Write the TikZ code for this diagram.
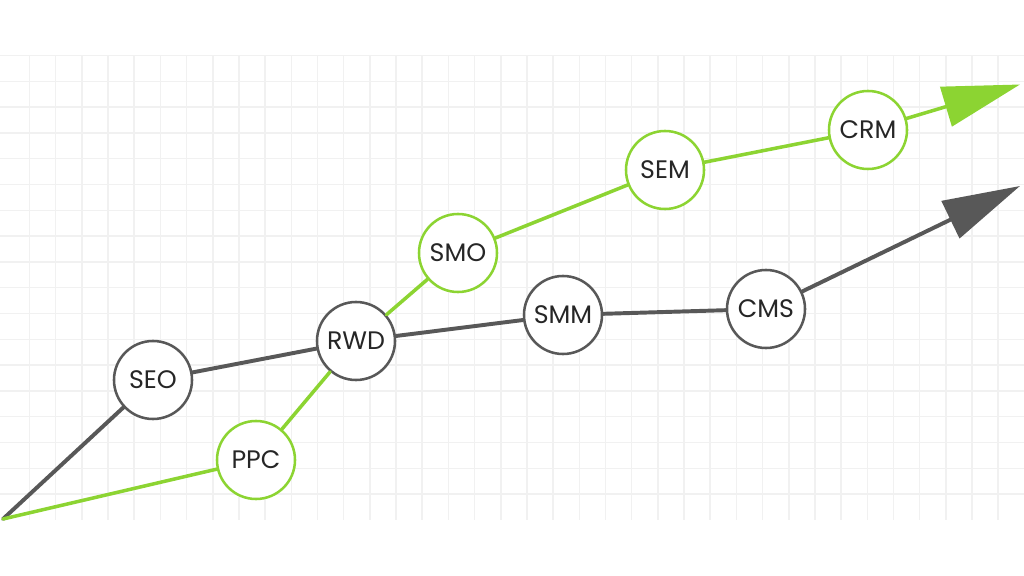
\documentclass[tikz,border=0pt]{standalone}
\usepackage{fontspec}
\setmainfont{Poppins}
\usetikzlibrary{arrows.meta}
\definecolor{verde}{RGB}{140,212,50}
\definecolor{grigio}{RGB}{88,88,88}
\definecolor{griglia}{RGB}{241,241,241}
\tikzset{
>=Stealth,
main node/.style={circle,inner sep=0pt,minimum size=1.95cm,fill=white,line width=1.8pt,
  text=black!85,font=\fontsize{18}{21}\selectfont},
nodo grigio/.style={main node,draw=grigio},
nodo verde/.style={main node,draw=verde},
linea grigia/.style={color=grigio,line width=2.8pt,line cap=round},
linea verde/.style={color=verde,line width=2.5pt,line cap=round},
punta/.style={-{Triangle[length=55pt,width=29pt]}}}

\begin{document}
\begin{tikzpicture}[x=0.025cm,y=-0.025cm]

\useasboundingbox (0,0) rectangle (1024,576);
% griglia
\foreach \i in {0,...,37}
  \draw[griglia,line width=1.1pt] ({29.5+26.18*\i},55) -- ({29.5+26.18*\i},520);
\foreach \j in {0,...,17}
  \draw[griglia,line width=1.1pt] (0,{55.5+25.8*\j}) -- (1024,{55.5+25.8*\j});

\coordinate (start) at (3,519);
\coordinate (fine1) at (1020,84.5);
\coordinate (fine2) at (1020,186);

\node[nodo grigio] (seo) at (153,380) {SEO};
\node[nodo verde] (ppc) at (256,460) {PPC};
\node[nodo grigio] (rwd) at (356,341) {RWD};
\node[nodo verde] (smo) at (458,253) {SMO};
\node[nodo grigio] (smm) at (563,315) {SMM};
\node[nodo verde] (sem) at (665,170) {SEM};
\node[nodo grigio] (cms) at (766,309) {CMS};
\node[nodo verde] (crm) at (868,130) {CRM};

\path[linea grigia] (start) edge (seo);
\path[linea grigia] (seo) edge (rwd);
\path[linea grigia] (rwd) edge (smm);
\path[linea grigia] (smm) edge (cms);
\path[linea grigia] (cms) edge[punta] (fine2);

\path[linea verde] (start) edge (ppc);
\path[linea verde] (ppc) edge (rwd);
\path[linea verde] (rwd) edge (smo);
\path[linea verde] (smo) edge (sem);
\path[linea verde] (sem) edge (crm);
\path[linea verde] (crm) edge[punta] (fine1);

\end{tikzpicture}
\end{document}
